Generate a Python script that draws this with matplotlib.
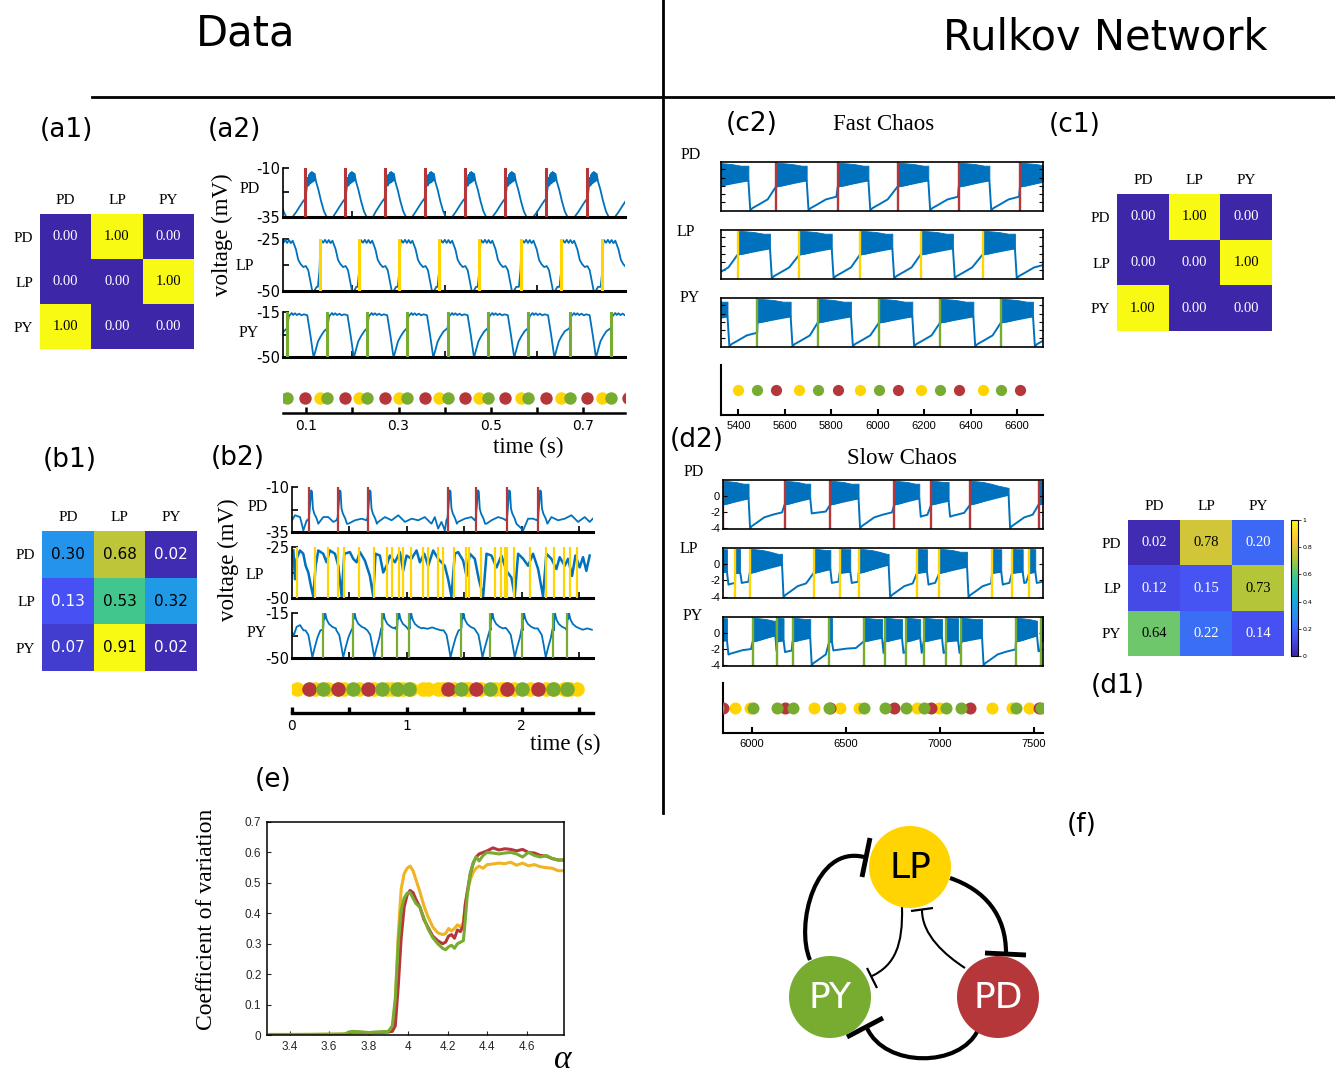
import numpy as np
import matplotlib
matplotlib.use("Agg")
import matplotlib.pyplot as plt
from matplotlib.colors import LinearSegmentedColormap
from matplotlib.path import Path
from matplotlib.patches import PathPatch, Circle

W, H = 1335, 1074
BLUE = "#0072BD"
RED = "#B5373A"
YEL = "#FFD400"
GRN = "#77AC30"
YEL_E = "#F0B323"
SERIF = "Liberation Serif"
SANS = "Liberation Sans"

NEURONS = ["PD", "LP", "PY"]

# ---- connectivity matrices (a1, b1, c1, d1)
A1_MATRIX = [[0.00, 1.00, 0.00], [0.00, 0.00, 1.00], [1.00, 0.00, 0.00]]
B1_MATRIX = [[0.30, 0.68, 0.02], [0.13, 0.53, 0.32], [0.07, 0.91, 0.02]]
C1_MATRIX = [[0.00, 1.00, 0.00], [0.00, 0.00, 1.00], [1.00, 0.00, 0.00]]
D1_MATRIX = [[0.02, 0.78, 0.20], [0.12, 0.15, 0.73], [0.64, 0.22, 0.14]]

# ---- (a2) regular rhythm: burst onset times (s) and one-cycle waveforms
A2_PD_EVENTS = [0.011, 0.0985, 0.185, 0.270, 0.3565, 0.4435, 0.531, 0.6196, 0.7087, 0.796]
A2_LP_EVENTS = [0.043, 0.129, 0.215, 0.302, 0.388, 0.475, 0.564, 0.652, 0.741, 0.827]
A2_PY_EVENTS = [-0.028, 0.059, 0.146, 0.232, 0.318, 0.406, 0.493, 0.580, 0.670, 0.759]
A2_PD_CYC_T = [-0.028, -0.02, -0.012, -0.005, 0.0, 0.003, 0.005, 0.0065, 0.008, 0.0095, 0.011,
               0.0125, 0.014, 0.0155, 0.017, 0.0185, 0.02, 0.023, 0.028, 0.034, 0.040, 0.046, 0.0595]
A2_PD_CYC_V = [-35, -32.5, -29.5, -27, -25.5, -20, -15, -19, -13.5, -18, -12.5,
               -17.5, -12, -17, -12.5, -16.5, -13, -17, -21, -27, -32, -35, -35]
A2_LP_CYC_T = [-0.0036, 0.0, 0.002, 0.0036, 0.008, 0.012, 0.016, 0.020, 0.024, 0.028, 0.030,
               0.035, 0.040, 0.045, 0.051, 0.0565, 0.0616, 0.0667, 0.0703, 0.0746, 0.0797]
A2_LP_CYC_V = [-48, -40, -27, -25.5, -26.8, -25.4, -26.9, -25.5, -27, -25.8, -27,
               -30, -35, -37, -38.5, -38, -40, -46, -50, -50, -48]
A2_PY_CYC_T = [0.0, 0.0036, 0.0072, 0.010, 0.013, 0.017, 0.021, 0.026, 0.031, 0.036, 0.0435,
               0.045, 0.0507, 0.0543, 0.0565, 0.058, 0.0616, 0.0667, 0.0725, 0.0797]
A2_PY_CYC_V = [-27.6, -18.4, -17, -15.8, -17.3, -16, -17.4, -16.3, -17.6, -16.8, -17.5,
               -21, -34, -43.4, -48.7, -49.5, -44.7, -38, -34, -30]

# ---- (b2) irregular rhythm
B2_PD_EVENTS = [0.148, 0.397, 0.658, 1.354, 1.600, 1.872, 2.142]
B2_LP_EVENTS = [0.041, 0.200, 0.316, 0.403, 0.452, 0.583, 0.716, 0.829, 0.872, 0.933, 0.968,
                1.035, 1.142, 1.186, 1.267, 1.316, 1.412, 1.513, 1.539, 1.649, 1.771, 1.817,
                1.852, 1.875, 1.930, 2.070, 2.209, 2.281, 2.368, 2.417, 2.484]
B2_PY_EVENTS = [0.272, 0.528, 0.780, 0.916, 1.020, 1.475, 1.727, 2.003, 2.272, 2.394]
B2_PY_DIPS = [0.177, 0.446, 0.716, 1.380, 1.658, 1.939, 2.209]

B2_PD_BASE_T = [0.0, 0.026, 0.070, 0.099, 0.128, 0.272, 0.316, 0.359, 0.49, 0.548, 0.606,
                0.751, 0.809, 0.867, 0.925, 0.983, 1.041, 1.099, 1.156, 1.214, 1.243, 1.272,
                1.301, 1.33, 1.446, 1.504, 1.562, 1.693, 1.736, 1.794, 1.838, 1.983, 2.012,
                2.055, 2.099, 2.258, 2.316, 2.374, 2.432, 2.49, 2.548, 2.591, 2.62]
B2_PD_BASE_V = [-28.5, -25.7, -26.7, -34.1, -28.5, -26.7, -26.7, -29.4, -30.4, -28.5, -27.6,
                -29.4, -26.7, -28.5, -25.7, -29.4, -27.6, -28.5, -26.7, -30.4, -26.7, -33.1,
                -29.4, -34.1, -29.4, -27.6, -26.7, -30.4, -28.5, -26.7, -27.6, -32.2, -34.1,
                -27.6, -27.6, -26.7, -28.5, -27.6, -25.7, -29.4, -26.7, -29.4, -27.5]
B2_PD_SPIKE_T = [-0.01, 0.0, 0.012, 0.018, 0.026, 0.034, 0.046, 0.067, 0.081]
B2_PD_SPIKE_V = [-28.5, -27, -18, -11.9, -12.5, -22, -24.8, -27.6, -30.4]

B2_LP_T = [0.012, 0.026, 0.040, 0.069, 0.098, 0.119, 0.142, 0.165, 0.185, 0.206, 0.229, 0.272,
           0.301, 0.330, 0.374, 0.403, 0.432, 0.455, 0.504, 0.533, 0.562, 0.591, 0.635, 0.678,
           0.707, 0.727, 0.765, 0.794, 0.823, 0.852, 0.896, 0.939, 0.968, 0.997, 1.040, 1.084,
           1.113, 1.151, 1.185, 1.229, 1.272, 1.330, 1.359, 1.388, 1.417, 1.446, 1.490, 1.519,
           1.548, 1.591, 1.626, 1.664, 1.693, 1.736, 1.780, 1.823, 1.867, 1.910, 1.939, 1.968,
           2.012, 2.055, 2.098, 2.142, 2.185, 2.214, 2.258, 2.301, 2.330, 2.374, 2.403, 2.438,
           2.467, 2.504, 2.533, 2.562, 2.591]
B2_LP_V = [-26.7, -40.8, -30.8, -26.7, -28.3, -34.2, -37.5, -44.2, -49.2, -34.2, -26.7, -28.3,
           -32.5, -26.7, -28.3, -34.2, -49.2, -28.3, -27.5, -30.8, -32.5, -27.5, -31.7, -39.2,
           -49.2, -28.3, -29.2, -37.5, -34.2, -29.2, -32.5, -27.5, -36.7, -29.2, -30.8, -26.7,
           -32.5, -28.3, -34.2, -26.7, -30.8, -34.2, -40.8, -49.2, -28.3, -27.5, -31.7, -39.2,
           -28.3, -30.8, -40.8, -49.2, -28.3, -29.2, -35.0, -29.2, -36.7, -40.0, -49.2, -28.3,
           -30.8, -34.2, -28.3, -35.8, -49.2, -28.3, -30.8, -35.8, -30.0, -34.2, -30.8, -39.2,
           -29.2, -35.0, -30.0, -36.7, -29.2]

B2_PY_BASE_T = [0.0, 0.015, 0.04, 0.07, 0.10, 0.40, 0.64, 0.90, 1.14, 1.18, 1.22, 1.26, 1.30,
                1.60, 1.86, 2.14, 2.45, 2.49, 2.53, 2.57, 2.61]
B2_PY_BASE_V = [-30, -32.5, -25.8, -24.4, -28.5, -26.5, -27.5, -26, -26.5, -27.3, -26.2, -27.5,
                -28.5, -27, -26.5, -27, -27.5, -26.5, -28, -27, -28]
B2_PY_BURST_T = [-0.006, 0.0, 0.006, 0.012, 0.018, 0.024, 0.032, 0.05, 0.08, 0.11]
B2_PY_BURST_V = [-28, -26.5, -15.5, -19.5, -15.5, -18, -20.5, -23.5, -25.8, -27]
B2_PY_DIP_T = [-0.06, -0.035, -0.018, 0.0, 0.02, 0.045, 0.07]
B2_PY_DIP_V = [-28.5, -32, -40, -49.5, -42, -34, -28.5]

# ---- Rulkov network bursts: (onset, end of spiking, trough after burst)
C2_PD_BURSTS = [(5300, 5443, -4.0), (5562, 5694, -4.0), (5828, 5960, -4.0), (6086, 6218, -4.0),
                (6349, 6481, -4.0), (6613, 6745, -4.0)]
C2_LP_BURSTS = [(5135, 5274, -4.0), (5397, 5536, -4.0), (5663, 5802, -4.0), (5924, 6063, -4.0),
                (6185, 6324, -4.0), (6452, 6591, -4.0)]
C2_PY_BURSTS = [(5220, 5353, -4.0), (5482, 5625, -4.0), (5742, 5885, -4.0), (6006, 6149, -4.0),
                (6269, 6412, -4.0), (6531, 6669, -4.0)]
D2_PD_BURSTS = [(5844, 5982, -4.0), (6174, 6310, -2.2), (6417, 6567, -4.0), (6757, 6890, -2.6),
                (6954, 7046, -2.6), (7161, 7365, -4.0), (7525, 7620, -4.0)]
D2_LP_BURSTS = [(5820, 5867, -2.5), (5911, 5938, -2.3), (5988, 6160, -4.0), (6328, 6417, -2.3),
                (6466, 6523, -2.3), (6567, 6727, -4.0), (6878, 6931, -2.5), (6997, 7144, -4.0),
                (7277, 7326, -2.5), (7383, 7440, -2.3), (7475, 7507, -2.3)]
D2_PY_BURSTS = [(5820, 5867, -2.7), (6004, 6124, -2.3), (6133, 6168, -2.4), (6216, 6310, -4.0),
                (6411, 6425, -2.2), (6594, 6692, -2.5), (6706, 6798, -2.5), (6821, 6895, -2.5),
                (6913, 7011, -2.5), (7032, 7096, -2.5), (7114, 7224, -4.0), (7404, 7516, -2.3),
                (7537, 7600, -2.3)]
# spiking envelope (time since onset) and post-burst recovery shape
BLOCK_DT = [0, 30, 70, 110, 150, 200]
BLOCK_UP = [1.8, 1.75, 1.65, 1.45, 1.2, 0.95]
BLOCK_LO = [-1.1, -0.95, -0.65, -0.35, -0.1, 0.1]
RECOV_DT = [0, 10, 35, 75, 120, 170, 250, 400]
RECOV_FRAC = [0, 0.12, 0.3, 0.6, 0.75, 0.88, 0.95, 1.0]
PLATEAU = -1.8
DROP_DT = 8

# ---- (e) coefficient of variation vs alpha
ALPHA = [3.30, 3.50, 3.68, 3.70, 3.72, 3.80, 3.90, 3.92, 3.935, 3.95, 3.965, 3.98, 3.995, 4.01,
         4.025, 4.04, 4.06, 4.08, 4.10, 4.125, 4.15, 4.175, 4.19, 4.205, 4.22, 4.235, 4.25, 4.265,
         4.28, 4.29, 4.30, 4.315, 4.33, 4.345, 4.36, 4.38, 4.40, 4.43, 4.46, 4.49, 4.52, 4.55,
         4.58, 4.61, 4.64, 4.67, 4.70, 4.73, 4.76, 4.79]
CV_PD = [0.0, 0.0, 0.002, 0.008, 0.01, 0.008, 0.01, 0.012, 0.03, 0.16, 0.32, 0.42, 0.46, 0.475,
         0.468, 0.445, 0.42, 0.38, 0.355, 0.325, 0.31, 0.30, 0.305, 0.325, 0.33, 0.318, 0.345, 0.34,
         0.36, 0.43, 0.47, 0.53, 0.565, 0.585, 0.595, 0.60, 0.605, 0.615, 0.608, 0.612, 0.61, 0.605,
         0.61, 0.60, 0.598, 0.59, 0.588, 0.58, 0.575, 0.575]
CV_LP = [0.002, 0.002, 0.003, 0.005, 0.006, 0.006, 0.01, 0.015, 0.1, 0.33, 0.48, 0.53, 0.548, 0.555,
         0.54, 0.51, 0.47, 0.425, 0.39, 0.355, 0.336, 0.33, 0.333, 0.35, 0.342, 0.35, 0.362, 0.355,
         0.37, 0.43, 0.47, 0.51, 0.535, 0.548, 0.555, 0.548, 0.56, 0.562, 0.565, 0.563, 0.568, 0.558,
         0.565, 0.556, 0.56, 0.553, 0.55, 0.548, 0.54, 0.54]
CV_PY = [0.001, 0.002, 0.003, 0.01, 0.012, 0.008, 0.012, 0.03, 0.12, 0.30, 0.41, 0.45, 0.466, 0.468,
         0.45, 0.432, 0.42, 0.385, 0.35, 0.32, 0.30, 0.285, 0.28, 0.29, 0.295, 0.285, 0.30, 0.305,
         0.31, 0.38, 0.46, 0.53, 0.565, 0.585, 0.572, 0.59, 0.60, 0.598, 0.595, 0.598, 0.60, 0.595,
         0.585, 0.60, 0.59, 0.585, 0.59, 0.58, 0.575, 0.575]

PARULA = LinearSegmentedColormap.from_list("parula", [
    (0.2422, 0.1504, 0.6603), (0.2810, 0.3228, 0.9579), (0.1786, 0.5289, 0.9682),
    (0.0689, 0.6948, 0.8394), (0.2161, 0.7843, 0.5923), (0.6720, 0.7793, 0.2227),
    (0.9970, 0.7659, 0.2199), (0.9769, 0.9839, 0.0805)])

fig = plt.figure(figsize=(W / 100, H / 100), dpi=100)


def px_axes(x0, y0, x1, y1):
    return fig.add_axes([x0 / W, 1 - y1 / H, (x1 - x0) / W, (y1 - y0) / H])


def stamp_trace(base_t, base_v, stamps):
    windows, pts = [], []
    for events, tt, tv in stamps:
        for e in events:
            windows.append((e + tt[0], e + tt[-1]))
            pts += [(e + a, b) for a, b in zip(tt, tv)]
    pts += [(a, b) for a, b in zip(base_t, base_v)
            if not any(lo <= a <= hi for lo, hi in windows)]
    pts.sort()
    t, v = zip(*pts)
    return t, v


def rulkov_trace(bursts, t_end):
    lt, lv, blocks = [], [], []
    for i, (s, e, trough) in enumerate(bursts):
        keep = [k for k, d in enumerate(BLOCK_DT) if d < e - s]
        bt = [s + BLOCK_DT[k] for k in keep] + [e]
        up = [BLOCK_UP[k] for k in keep] + [BLOCK_UP[keep[-1]]]
        lo = [BLOCK_LO[k] for k in keep] + [BLOCK_LO[keep[-1]]]
        blocks.append((bt, up, lo))
        lt += [s, e, e + DROP_DT]
        lv += [lo[0], lo[-1], trough]
        nxt = bursts[i + 1][0] if i + 1 < len(bursts) else t_end
        for d, f in zip(RECOV_DT[1:], RECOV_FRAC[1:]):
            if e + DROP_DT + d < nxt:
                lt.append(e + DROP_DT + d)
                lv.append(trough + (PLATEAU - trough) * f)
    return lt, lv, blocks


def heatmap(rect, mat, vmax, font, size):
    ax = px_axes(*rect)
    ax.imshow(mat, cmap=PARULA, vmin=0, vmax=vmax, aspect="auto")
    for i in range(3):
        for j in range(3):
            val = mat[i][j]
            ax.text(j, i, f"{val:.2f}", ha="center", va="center", family=font, fontsize=size,
                    color="white" if val < 0.25 else "black")
    ax.set_xticks(range(3), NEURONS, family=SERIF, fontsize=11)
    ax.set_yticks(range(3), NEURONS, family=SERIF, fontsize=11)
    ax.xaxis.tick_top()
    ax.tick_params(length=0, pad=5)
    for s in ax.spines.values():
        s.set_visible(False)
    return ax


def data_trace(rect, t, v, ylim, events, color, xlim, xticks, lw_ev, lw=1.3):
    ax = px_axes(*rect)
    ax.plot(t, v, color=BLUE, lw=lw, zorder=2)
    for e in events:
        ax.axvline(e, color=color, lw=lw_ev, zorder=3)
    ax.set_xlim(*xlim)
    ax.set_ylim(*ylim)
    lo, hi = ylim
    ax.set_yticks([lo, (lo + hi) / 2, hi], [str(lo), "", str(hi)], fontsize=10.5)
    ax.set_xticks(xticks, [""] * len(xticks))
    ax.tick_params(direction="in", length=4, width=1.2, pad=2)
    ax.spines[["top", "right"]].set_visible(False)
    ax.spines["bottom"].set_linewidth(2.2)
    ax.spines["left"].set_linewidth(1.2)
    ax.patch.set_alpha(0)
    return ax


def dot_axis(rect, groups, xlim, size, ticks, labels, font, fsize, left, lw):
    ax = px_axes(*rect)
    for events, color in groups:
        ax.scatter(events, np.full(len(events), 0.5), s=size, color=color, lw=0, zorder=3)
    ax.set_xlim(*xlim)
    ax.set_ylim(0, 1)
    ax.set_yticks([])
    ax.set_xticks(ticks, labels, family=font, fontsize=fsize)
    ax.tick_params(direction="in", length=4, width=lw, pad=4)
    ax.spines[["top", "right"]].set_visible(False)
    ax.spines["left"].set_visible(left)
    ax.spines["bottom"].set_linewidth(lw)
    ax.spines["left"].set_linewidth(lw)
    ax.patch.set_alpha(0)
    return ax


def rulkov_axis(rect, bursts, color, xlim, labelled):
    ax = px_axes(*rect)
    lt, lv, blocks = rulkov_trace(bursts, xlim[1] + 100)
    for bt, up, lo in blocks:
        ax.fill_between(bt, lo, up, color=BLUE, lw=0.6)
    ax.plot(lt, lv, color=BLUE, lw=1.4)
    for s, _, _ in bursts:
        ax.axvline(s, color=color, lw=1.7)
    ax.set_xlim(*xlim)
    ax.set_ylim(-4.1, 1.9)
    ax.set_xticks([])
    if labelled:
        ax.set_yticks([-4, -2, 0], ["-4", "-2", "0"], family=SANS, fontsize=8)
    else:
        ax.set_yticks([-3, -2, -1, 0, 1], [""] * 5)
    ax.tick_params(axis="y", direction="in", right=True, length=3, pad=2)
    for s in ax.spines.values():
        s.set_linewidth(1.2)
    return ax


# ---- heatmaps
heatmap((40, 214, 194, 349), A1_MATRIX, 1.0, SERIF, 10.5)
heatmap((42, 531, 197, 671), B1_MATRIX, 0.91, "DejaVu Sans", 11)
heatmap((1117, 194, 1272, 331), C1_MATRIX, 1.0, SERIF, 10.5)
ax_d1 = heatmap((1128, 520, 1284, 656), D1_MATRIX, 1.0, SERIF, 10.5)
cax = px_axes(1291, 520, 1298, 656)
cb = fig.colorbar(ax_d1.images[0], cax=cax, ticks=[0, 0.2, 0.4, 0.6, 0.8, 1])
cb.ax.set_yticklabels(["0", "0.2", "0.4", "0.6", "0.8", "1"], fontsize=4.5)
cb.ax.tick_params(length=2, width=0.5, pad=1)
cb.outline.set_linewidth(0.8)

# ---- (a2)
A2_XLIM = (0.05, 0.79)
a2_ticks = [0.2, 0.4, 0.6]
t, v = stamp_trace([], [], [(A2_PD_EVENTS, A2_PD_CYC_T, A2_PD_CYC_V)])
data_trace((283, 168, 625, 217), t, v, (-35, -10), A2_PD_EVENTS, RED, A2_XLIM, a2_ticks, 2.2)
t, v = stamp_trace([], [], [(A2_LP_EVENTS, A2_LP_CYC_T, A2_LP_CYC_V)])
data_trace((283, 239, 625, 291), t, v, (-50, -25), A2_LP_EVENTS, YEL, A2_XLIM, a2_ticks, 2.2)
t, v = stamp_trace([], [], [(A2_PY_EVENTS, A2_PY_CYC_T, A2_PY_CYC_V)])
data_trace((283, 312, 625, 357), t, v, (-50, -15), A2_PY_EVENTS, GRN, A2_XLIM, a2_ticks, 2.2)
dot_axis((283, 383, 625, 413), [(A2_LP_EVENTS, YEL), (A2_PD_EVENTS, RED), (A2_PY_EVENTS, GRN)],
         A2_XLIM, 80, [0.1, 0.2, 0.3, 0.4, 0.5, 0.6, 0.7],
         ["0.1", "", "0.3", "", "0.5", "", "0.7"], "DejaVu Sans", 10, False, 1.8)

# ---- (b2)
B2_XLIM = (0, 2.62)
b2_ticks = [0.5, 1, 1.5, 2, 2.5]
t, v = stamp_trace(B2_PD_BASE_T, B2_PD_BASE_V, [(B2_PD_EVENTS, B2_PD_SPIKE_T, B2_PD_SPIKE_V)])
data_trace((292, 487, 593, 532), t, v, (-35, -10), B2_PD_EVENTS, RED, B2_XLIM, b2_ticks, 1.6)
data_trace((292, 547, 593, 598), B2_LP_T, B2_LP_V, (-50, -25), B2_LP_EVENTS, YEL, B2_XLIM,
           b2_ticks, 1.6, lw=1.8)
t, v = stamp_trace(B2_PY_BASE_T, B2_PY_BASE_V, [(B2_PY_EVENTS, B2_PY_BURST_T, B2_PY_BURST_V),
                                                (B2_PY_DIPS, B2_PY_DIP_T, B2_PY_DIP_V)])
data_trace((292, 613, 593, 658), t, v, (-50, -15), B2_PY_EVENTS, GRN, B2_XLIM, b2_ticks, 1.6)
dot_axis((292, 665, 593, 713), [(B2_LP_EVENTS, YEL), (B2_PD_EVENTS, RED), (B2_PY_EVENTS, GRN)],
         B2_XLIM, 110, [0, 0.5, 1, 1.5, 2, 2.5], ["0", "", "1", "", "2", ""],
         "DejaVu Sans", 10, False, 2.4)

# ---- (c2) fast chaos
C2_XLIM = (5325, 6712)
rulkov_axis((721, 162, 1043, 211), C2_PD_BURSTS, RED, C2_XLIM, False)
rulkov_axis((721, 230, 1043, 279), C2_LP_BURSTS, YEL, C2_XLIM, False)
rulkov_axis((721, 298, 1043, 347), C2_PY_BURSTS, GRN, C2_XLIM, False)
dot_axis((721, 365, 1043, 415), [([b[0] for b in C2_LP_BURSTS], YEL),
                                 ([b[0] for b in C2_PD_BURSTS], RED),
                                 ([b[0] for b in C2_PY_BURSTS], GRN)],
         C2_XLIM, 65, list(range(5400, 6700, 200)), [str(x) for x in range(5400, 6700, 200)],
         SANS, 8, True, 1.5)

# ---- (d2) slow chaos
D2_XLIM = (5846, 7548)
rulkov_axis((723, 480, 1043, 529), D2_PD_BURSTS, RED, D2_XLIM, True)
rulkov_axis((723, 548, 1043, 598), D2_LP_BURSTS, YEL, D2_XLIM, True)
rulkov_axis((723, 617, 1043, 666), D2_PY_BURSTS, GRN, D2_XLIM, True)
dot_axis((723, 683, 1043, 733), [([b[0] for b in D2_LP_BURSTS], YEL),
                                 ([b[0] for b in D2_PD_BURSTS], RED),
                                 ([b[0] for b in D2_PY_BURSTS], GRN)],
         D2_XLIM, 75, [6000, 6500, 7000, 7500], ["6000", "6500", "7000", "7500"],
         SANS, 8, True, 1.5)

# ---- (e)
ax_e = px_axes(267, 822, 564, 1035)
ax_e.plot(ALPHA, CV_LP, color=YEL_E, lw=2.2)
ax_e.plot(ALPHA, CV_PD, color=RED, lw=2.2)
ax_e.plot(ALPHA, CV_PY, color=GRN, lw=2.2)
ax_e.set_xlim(3.285, 4.79)
ax_e.set_ylim(0, 0.7)
ax_e.set_xticks([3.4, 3.6, 3.8, 4.0, 4.2, 4.4, 4.6],
                ["3.4", "3.6", "3.8", "4", "4.2", "4.4", "4.6"], family=SANS, fontsize=8.5)
ax_e.set_yticks([0, 0.1, 0.2, 0.3, 0.4, 0.5, 0.6, 0.7],
                ["0", "0.1", "0.2", "0.3", "0.4", "0.5", "0.6", "0.7"], family=SANS, fontsize=8.5)
ax_e.tick_params(direction="in", length=3, pad=4, colors="#262626")
for s in ax_e.spines.values():
    s.set_linewidth(1.1)

# ---- overlay: titles, separators, panel labels, diagram (f)
ov = fig.add_axes([0, 0, 1, 1])
ov.set_xlim(0, W)
ov.set_ylim(H, 0)
ov.axis("off")
ov.plot([92, W], [97, 97], color="black", lw=2)
ov.plot([663, 663], [0, 813], color="black", lw=2)
ov.text(246, 33, "Data", ha="center", va="center", fontsize=30)
ov.text(1105, 38, "Rulkov Network", ha="center", va="center", fontsize=30)
for lbl, x, y in [("(a1)", 66, 130), ("(a2)", 234, 130), ("(b1)", 70, 460), ("(b2)", 238, 458),
                  ("(c2)", 752, 124), ("(c1)", 1075, 125), ("(d2)", 697, 440),
                  ("(d1)", 1118, 686), ("(e)", 273, 780), ("(f)", 1082, 825)]:
    ov.text(x, y, lbl, ha="center", va="center", fontsize=19)
ov.text(884, 124, "Fast Chaos", ha="center", va="center", family=SERIF, fontsize=16.5)
ov.text(902, 458, "Slow Chaos", ha="center", va="center", family=SERIF, fontsize=16.5)
for name, x, y in [("PD", 250, 189), ("LP", 245, 266), ("PY", 249, 333),
                   ("PD", 258, 507), ("LP", 255, 575), ("PY", 257, 633),
                   ("PD", 691, 155), ("LP", 686, 232), ("PY", 690, 298),
                   ("PD", 694, 472), ("LP", 689, 549), ("PY", 693, 616)]:
    ov.text(x, y, name, ha="center", va="center", family=SERIF, fontsize=11.5)
ov.text(222, 235, "voltage (mV)", rotation=90, ha="center", va="center", family=SERIF, fontsize=16.5)
ov.text(228, 560, "voltage (mV)", rotation=90, ha="center", va="center", family=SERIF, fontsize=16.5)
ov.text(528, 447, "time (s)", ha="center", va="center", family=SERIF, fontsize=16.5)
ov.text(565, 744, "time (s)", ha="center", va="center", family=SERIF, fontsize=16.5)
ov.text(207, 919, "Coefficient of variation", rotation=90, ha="center", va="center",
        family=SERIF, fontsize=17)
ov.text(563, 1060, "α", ha="center", va="center", family=SERIF, style="italic", fontsize=24)

# network diagram
NODE_POS = {"LP": (910, 867), "PY": (830, 997), "PD": (998, 997)}
NODE_COL = {"LP": YEL, "PY": GRN, "PD": RED}
SYN_CURVES = [
    ([(810, 960), (795, 925), (815, 845), (864, 857)], 3.0),
    ([(950, 878), (985, 890), (1006, 915), (1006, 953)], 3.0),
    ([(978, 1030), (960, 1068), (885, 1068), (867, 1028)], 3.0),
    ([(902, 907), (903, 945), (895, 965), (872, 976)], 1.5),
    ([(965, 968), (945, 955), (922, 935), (922, 910)], 1.5),
]
T_BARS = [((862, 877), (870, 838), 3.5), ((985, 953), (1026, 955), 3.5),
          ((847, 1037), (883, 1018), 3.5), ((867, 968), (877, 988), 1.6),
          ((911, 911), (933, 908), 1.6)]
for pts, lw in SYN_CURVES:
    path = Path(pts, [Path.MOVETO, Path.CURVE4, Path.CURVE4, Path.CURVE4])
    ov.add_patch(PathPatch(path, fill=False, lw=lw, color="black", zorder=3))
for p1, p2, lw in T_BARS:
    ov.plot([p1[0], p2[0]], [p1[1], p2[1]], color="black", lw=lw, zorder=4,
            solid_capstyle="butt")
for name, (x, y) in NODE_POS.items():
    ov.add_patch(Circle((x, y), 41, color=NODE_COL[name], lw=0, zorder=5))
    ov.text(x, y + 1, name, ha="center", va="center", fontsize=26, zorder=6,
            color="black" if name == "LP" else "white")

fig.savefig("out.png", dpi=100)
